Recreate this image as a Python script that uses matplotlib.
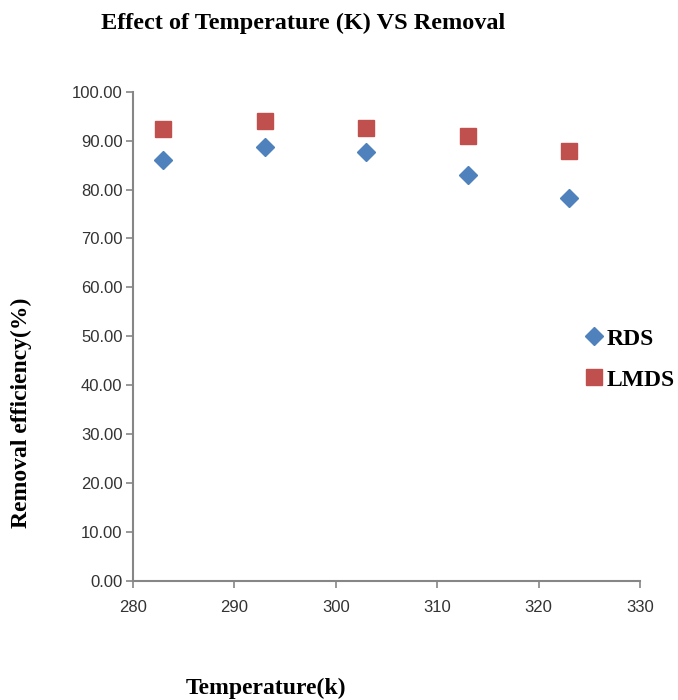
import matplotlib
matplotlib.use("Agg")
import matplotlib.pyplot as plt

# temperatures (K) and removal efficiency (%)
temperature = [283, 293, 303, 313, 323]
rds = [86.0, 88.8, 87.6, 82.9, 78.2]
lmds = [92.3, 94.1, 92.5, 90.9, 87.9]
xticks = [280, 290, 300, 310, 320, 330]
yticks = [0, 10, 20, 30, 40, 50, 60, 70, 80, 90, 100]

serif = ["Liberation Serif", "DejaVu Serif"]
gray = "#868686"

fig = plt.figure(figsize=(6.78, 7.0), dpi=100)
ax = fig.add_axes([0.196, 0.17, 0.748, 0.699])

ax.plot(temperature, rds, linestyle="none", marker="D", markersize=9,
        color="#4F81BD", label="RDS")
ax.plot(temperature, lmds, linestyle="none", marker="s", markersize=11,
        color="#C0504D", label="LMDS")

ax.set_xlim(280, 330)
ax.set_ylim(0, 100)
ax.set_xticks(xticks)
ax.set_yticks(yticks)
ax.set_yticklabels(["%.2f" % v for v in yticks])

for s in ["top", "right"]:
    ax.spines[s].set_visible(False)
for s in ["left", "bottom"]:
    ax.spines[s].set_color(gray)
    ax.spines[s].set_linewidth(1.5)
ax.tick_params(colors=gray, labelcolor="#333333", labelsize=12,
               length=5, width=1.2, direction="out")
ax.tick_params(axis="x", pad=9)
ax.tick_params(axis="y", pad=2.5)
for lbl in ax.get_xticklabels() + ax.get_yticklabels():
    lbl.set_family(["Liberation Sans", "DejaVu Sans"])

fig.text(0.447, 0.966, "Effect of Temperature (K) VS Removal", ha="center",
         va="center", family=serif, fontweight="bold", fontsize=17.5)
fig.text(0.392, 0.017, "Temperature(k)", ha="center", va="center",
         family=serif, fontweight="bold", fontsize=17)
fig.text(0.032, 0.41, "Removal efficiency(%)", ha="center", va="center",
         rotation=90, family=serif, fontweight="bold", fontsize=17)

leg = ax.legend(loc="center left", bbox_to_anchor=(0.872, 0.453), frameon=False,
                handletextpad=0.15, handlelength=0.8, labelspacing=0.82,
                borderaxespad=0,
                prop={"family": serif, "weight": "bold", "size": 17})

fig.savefig("out.png", dpi=100, facecolor="white")
